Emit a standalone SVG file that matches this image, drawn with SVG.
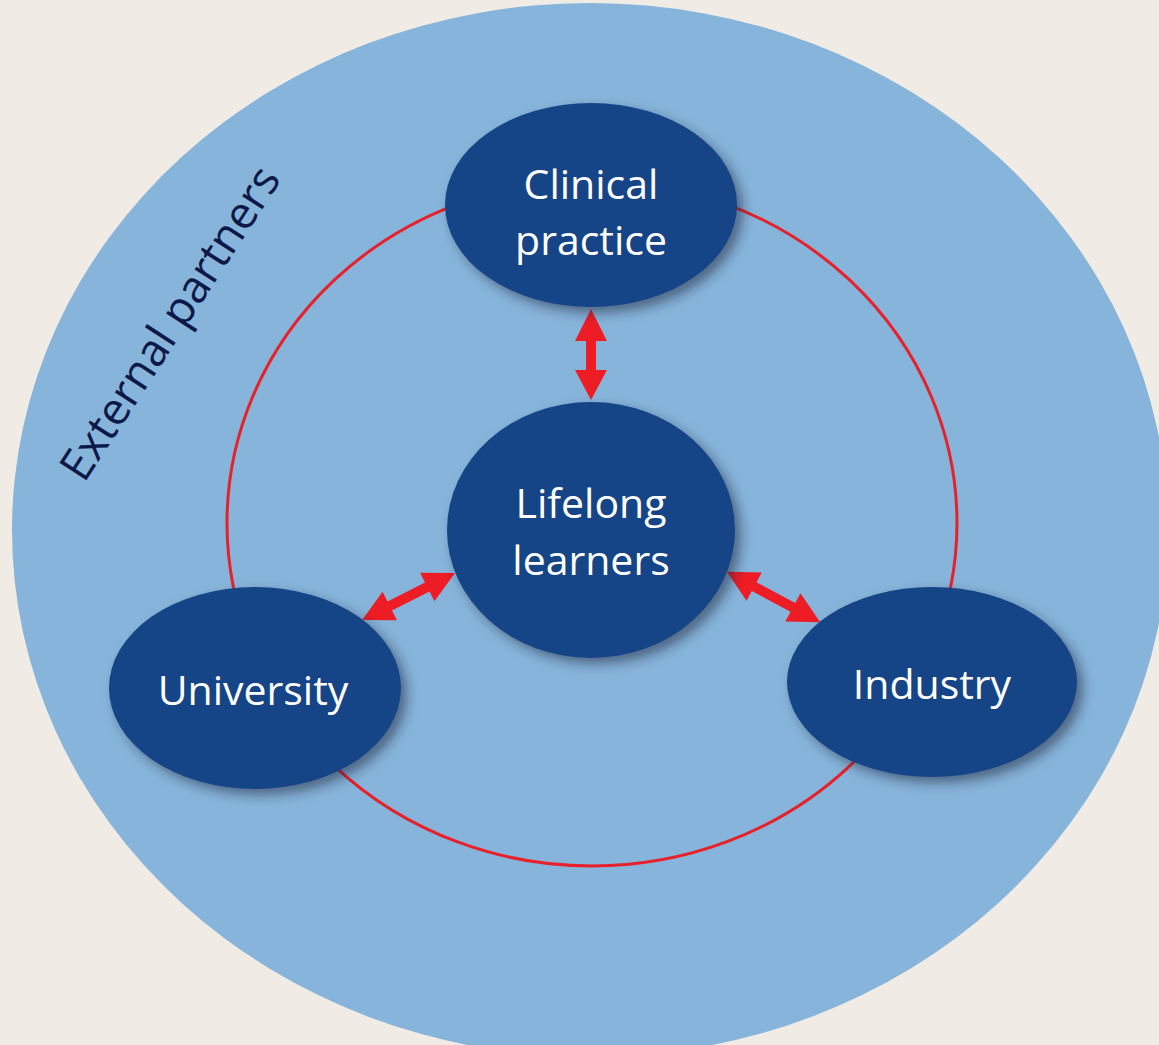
<svg xmlns="http://www.w3.org/2000/svg" width="1159" height="1045" viewBox="0 0 1159 1045">
<defs>
<style>
.node{fill:#154487;filter:url(#sh);}
.lbl{fill:#ffffff;font-family:"Open Sans","Noto Sans",sans-serif;font-size:41px;text-anchor:middle;}
.arr{fill:#ee1c25;}
</style>
<filter id="sh" x="-20%" y="-20%" width="150%" height="150%">
<feDropShadow dx="6" dy="6" stdDeviation="6" flood-color="#1a2a40" flood-opacity="0.55"/>
</filter>
</defs>
<rect width="1159" height="1045" fill="#f0ece5"/>
<g id="external-partners">
<ellipse cx="590" cy="530" rx="578" ry="527" fill="#87b4da"/>
<text transform="translate(84,484) rotate(-57)" font-family="'Open Sans','Noto Sans',sans-serif" font-size="45" fill="#0c1848">External partners</text>
</g>
<g id="ring">
<ellipse cx="592" cy="523" rx="365" ry="343" fill="none" stroke="#e8202a" stroke-width="3"/>
</g>
<g id="connectors">
<polygon class="arr" points="591,309 607,341 596,341 596,370 607,370 591,400 575,370 586,370 586,341 575,341"/>
<path class="arr" transform="translate(408.5,596.5) rotate(-26.8)" d="M-52,0 L-21,-16 L-21,-5 L21,-5 L21,-16 L52,0 L21,16 L21,5 L-21,5 L-21,16 Z"/>
<path class="arr" transform="translate(773.5,597) rotate(28.3)" d="M-53,0 L-22,-16 L-22,-5 L22,-5 L22,-16 L53,0 L22,16 L22,5 L-22,5 L-22,16 Z"/>
</g>
<g id="clinical-practice">
<ellipse class="node" cx="591" cy="205" rx="146" ry="102"/>
<text class="lbl" x="591" y="199">Clinical</text>
<text class="lbl" x="591" y="255">practice</text>
</g>
<g id="lifelong-learners">
<ellipse class="node" cx="591" cy="530" rx="144" ry="128"/>
<text class="lbl" x="591" y="518">Lifelong</text>
<text class="lbl" x="591" y="575">learners</text>
</g>
<g id="university">
<ellipse class="node" cx="255" cy="688" rx="146" ry="101"/>
<text class="lbl" x="253" y="705">University</text>
</g>
<g id="industry">
<ellipse class="node" cx="932" cy="682" rx="145" ry="95"/>
<text class="lbl" x="932" y="699">Industry</text>
</g>
</svg>
